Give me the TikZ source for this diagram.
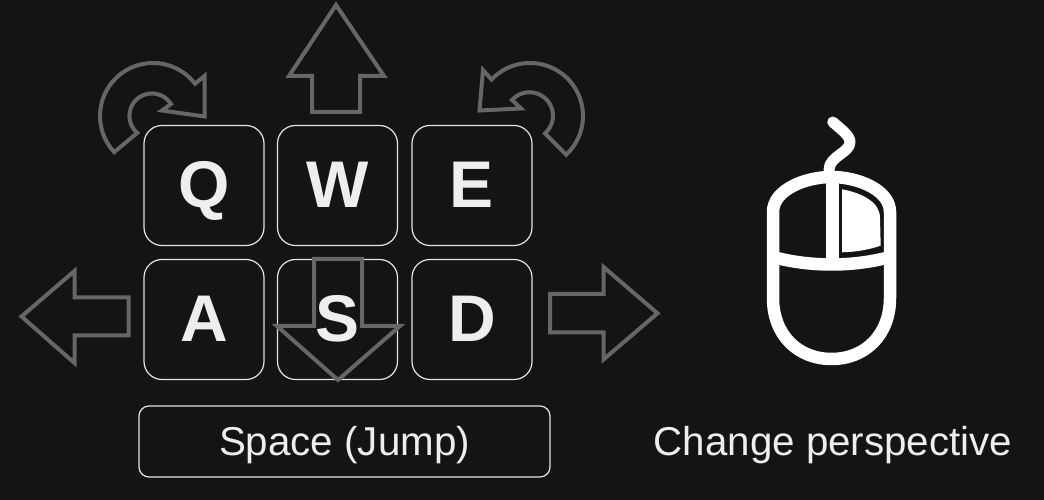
\documentclass[tikz,border=0pt]{standalone}
\usepackage{fontspec}
\setmainfont{Liberation Sans}
\definecolor{bgdark}{HTML}{141414}
\definecolor{arrowgray}{HTML}{666666}
\definecolor{keyline}{HTML}{E4E4E4}
\definecolor{keytext}{HTML}{EEEEEE}

\begin{document}
\begin{tikzpicture}[x=1pt,y=1pt,
    key/.style={draw=keyline,line width=1.2pt,rounded corners=18pt,minimum width=120pt,minimum height=120pt,inner sep=0pt,text=keytext,font=\fontsize{66}{66}\selectfont\bfseries,text height=47pt,text depth=3pt},
    bar/.style={draw=keyline,line width=1.2pt,rounded corners=10pt,minimum width=411pt,minimum height=71pt,inner sep=0pt,text=keytext,font=\fontsize{40.3}{40.3}\selectfont,text height=29pt,text depth=0pt},
    label/.style={inner sep=0pt,text=keytext,font=\fontsize{40.3}{40.3}\selectfont,text height=29pt,text depth=0pt},
    move/.style={draw=arrowgray,line width=4pt,miter limit=10},
    mouse/.style={draw=white,line width=12.5pt,line join=round}]
  \fill[bgdark] (0,0) rectangle (1044,500);
  \useasboundingbox (0,0) rectangle (1044,500);

  \node[key] (keyq) at (204,314.5) {Q};
  \node[key] (keyw) at (337.5,314.5) {W};
  \node[key] (keye) at (472,314.5) {E};
  \node[key] (keya) at (204,180.5) {A};
  \node[key] (keys) at (337.5,180.5) {S};
  \node[key] (keyd) at (472,180.5) {D};
  \node[bar] (space) at (344.5,58.5) {Space (Jump)};
  \node[label] (persp) at (833,58.5) {Change perspective};

  % straight arrows
  \draw[move] (336,495) -- (384,424) -- (360,424) -- (360,388) -- (312,388) -- (312,424) -- (289,424) -- cycle;
  \draw[move] (21.5,183.5) -- (74.5,229) -- (74.5,202.5) -- (128.5,202.5) -- (128.5,164.5) -- (74.5,164.5) -- (74.5,137) -- cycle;
  \draw[move] (657.5,186.7) -- (603.5,233) -- (603.5,206) -- (550,206) -- (550,167.7) -- (603.5,167.7) -- (603.5,140.5) -- cycle;
  \draw[move] (338,120) -- (400,174) -- (362,174) -- (362,241) -- (314,241) -- (314,174) -- (277,174) -- cycle;

  % turning arrows
  \draw[move] (153,384)+(223:53) arc[start angle=223,end angle=37.5,radius=53] -- (204.5,424) -- (204.5,383.5) -- (162,389.5) -- (171,396) arc[start angle=32,end angle=229,radius=22.5] -- cycle;
  \draw[move] (530,384)+(-47:53) arc[start angle=-47,end angle=136.5,radius=53] -- (483,430) -- (479.5,389.5) -- (521,391.5) -- (512,400) arc[start angle=138,end angle=-48.6,radius=23.5] -- cycle;

  % mouse
  \draw[mouse] (773,288) .. controls (773,310) and (805,323) .. (831.5,323) .. controls (858,323) and (890,310) .. (890,288) -- (890,202) .. controls (890,165) and (865,141) .. (831.5,141) .. controls (798,141) and (773,165) .. (773,202) -- cycle;
  \draw[mouse] (773,243) .. controls (810,233) and (853,233) .. (890,243);
  \draw[mouse] (832.5,323) -- (832.5,238);
  \draw[draw=white,line width=11pt,line cap=round,line join=round] (832.7,378) .. controls (842,370) and (850,364) .. (850,358) .. controls (850,347) and (829,344) .. (829,330);
  \fill[white] (842,310.7) .. controls (862,307) and (880,298) .. (880,282) -- (880.7,254.3) .. controls (868,250) and (855,248) .. (842,247.7) -- cycle;
\end{tikzpicture}
\end{document}
